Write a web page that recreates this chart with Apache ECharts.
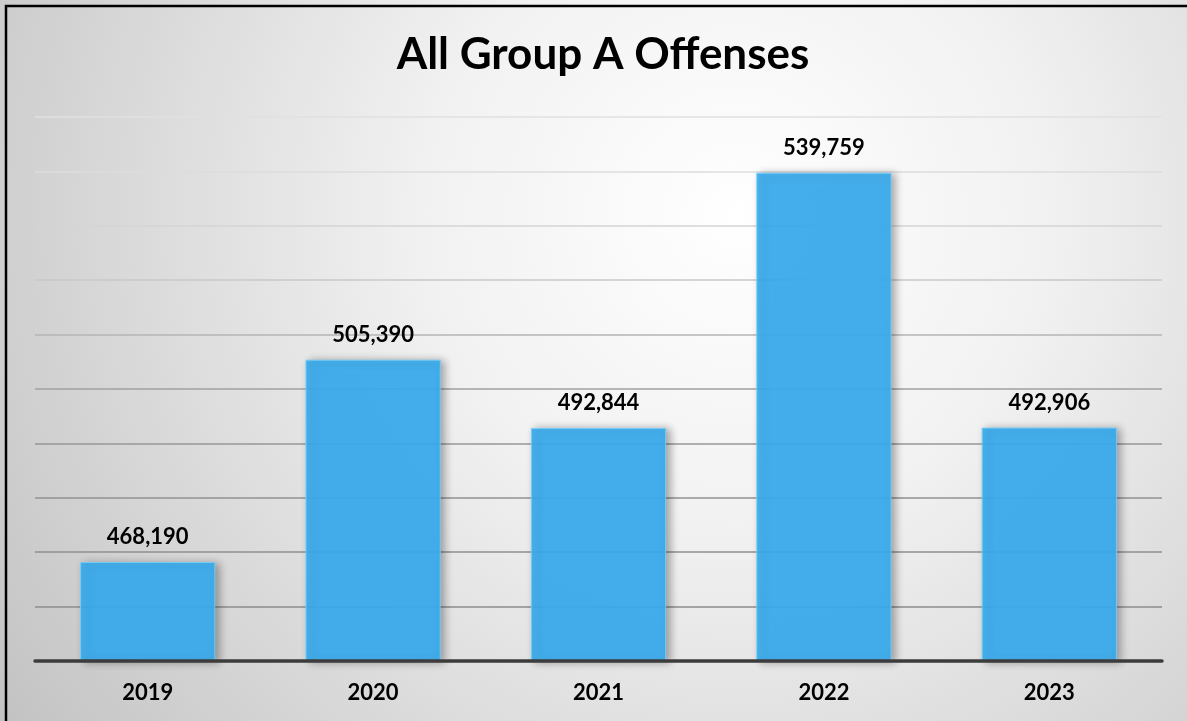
<!DOCTYPE html>
<html>
<head>
<meta charset="utf-8">
<script src="https://cdn.jsdelivr.net/npm/echarts@6/dist/echarts.min.js"></script>
<style>
html,body{margin:0;padding:0;background:#fff;}
#chart{width:1187px;height:721px;}
</style>
</head>
<body>
<div id="chart"></div>
<script>
const years = ['2019', '2020', '2021', '2022', '2023'];
const offenses = [468190, 505390, 492844, 539759, 492906];
const yMin = 450000;
const yMax = 550000;
const yStep = 10000;
const gridColors = ['#8a8a8a', '#8c8c8c', '#8f8f8f', '#929292', '#979797', '#a0a0a0', '#b4b4b4', '#c8c8c8', '#d4d4d4', '#dcdcdc', '#e0e0e0'];

const chart = echarts.init(document.getElementById('chart'));
const font = 'Lato, "Liberation Sans", Arial, sans-serif';
chart.setOption({
  backgroundColor: {
    type: 'radial', x: 0.62, y: 0.3, r: 1.25,
    colorStops: [
      {offset: 0, color: '#ffffff'},
      {offset: 0.35, color: '#f1f1f1'},
      {offset: 1, color: '#c2c2c2'}
    ]
  },
  title: {
    text: 'All Group A Offenses',
    left: 598, top: 28, textAlign: 'center',
    textStyle: {fontFamily: font, fontWeight: 'bold', fontSize: 44, color: '#000'}
  },
  graphic: [{
    type: 'polyline',
    shape: {points: [[6, 730], [6, 6], [1200, 6]]},
    style: {stroke: '#000', lineWidth: 2.5, fill: null},
    z: 100
  }],
  grid: {left: 35, right: 25, top: 117, bottom: 60},
  xAxis: {
    type: 'category',
    data: years,
    axisTick: {show: false},
    axisLine: {show: true, lineStyle: {color: '#3c3c3c', width: 3.5}},
    axisLabel: {margin: 21, fontFamily: font, fontWeight: 'bold', fontSize: 22, color: '#000'},
    z: 10
  },
  yAxis: {
    type: 'value',
    min: yMin, max: yMax, interval: yStep,
    axisLabel: {show: false},
    axisLine: {show: false},
    axisTick: {show: false},
    splitLine: {show: true, lineStyle: {color: gridColors, width: 1.5}}
  },
  series: [{
    type: 'bar',
    data: offenses,
    barCategoryGap: '40%',
    itemStyle: {
      color: 'rgba(58,174,240,0.92)',
      borderColor: 'rgba(120,205,250,0.9)',
      borderWidth: 1,
      shadowColor: 'rgba(0,0,0,0.35)',
      shadowBlur: 8,
      shadowOffsetX: 4,
      shadowOffsetY: 1
    },
    label: {
      show: true, position: 'top', distance: 14,
      fontFamily: font, fontWeight: 'bold', fontSize: 22, color: '#000',
      formatter: p => p.value.toLocaleString('en-US')
    }
  }]
});
</script>
</body>
</html>
